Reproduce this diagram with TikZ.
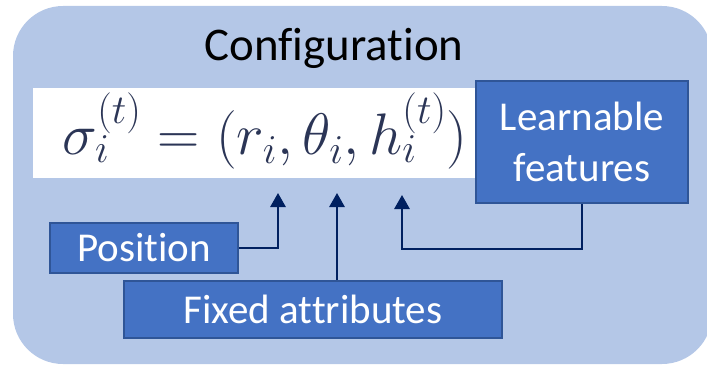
\documentclass[tikz,border=0pt]{standalone}
\usepackage{fix-cm}
\usepackage{fontspec}
\setmainfont{Carlito}[Ligatures=NoCommon]
\usetikzlibrary{arrows.meta}

\definecolor{panel}{HTML}{B4C7E7}
\definecolor{boxfill}{HTML}{4472C4}
\definecolor{boxline}{HTML}{2F5597}
\definecolor{navy}{HTML}{002060}
\definecolor{ink}{HTML}{2B3556}

\begin{document}
\begin{tikzpicture}[x=0.03cm,y=-0.03cm]
	\tikzstyle{LabelBox}=[draw=boxline,line width=1.5pt,fill=boxfill,text=white,inner sep=0pt,align=center,font=\fontsize{35}{43.5}\selectfont]
	\tikzstyle{Pointer}=[navy,line width=2pt,-{Triangle[length=12pt,width=13pt]}]
	\useasboundingbox (0,0) rectangle (707,366);
	\fill[panel,rounded corners=1.5cm] (13,6) rectangle (712,364);
	\node[font=\fontsize{40}{48}\selectfont] (title) at (334,48) {Configuration};
	\node[fill=white,minimum width=13.32cm,minimum height=2.7cm] (band) at (255,133) {};
	\node[text=ink,font=\fontsize{50}{60}\selectfont] (formula) at (265,131)
		{$\sigma_i^{(t)} = (r_i, \theta_i, h_i^{(t)})$};
	\node[LabelBox,minimum width=6.36cm,minimum height=3.66cm] (learn) at (582,142) {Learnable\\features};
	\node[LabelBox,minimum width=5.64cm,minimum height=1.5cm] (pos) at (144,248) {Position};
	\node[LabelBox,minimum width=11.34cm,minimum height=1.71cm] (fixed) at (313,309.5) {Fixed attributes};
	% tips just under r_i, theta_i and h_i
	\coordinate (rTip) at (278,193);
	\coordinate (thTip) at (337,193);
	\coordinate (hTip) at (402,195);
	\draw[Pointer] (pos.east) -| (rTip);
	\draw[Pointer] (fixed.north -| thTip) -- (thTip);
	\draw[Pointer] (learn.south) |- (402,249) -- (hTip);
\end{tikzpicture}
\end{document}
